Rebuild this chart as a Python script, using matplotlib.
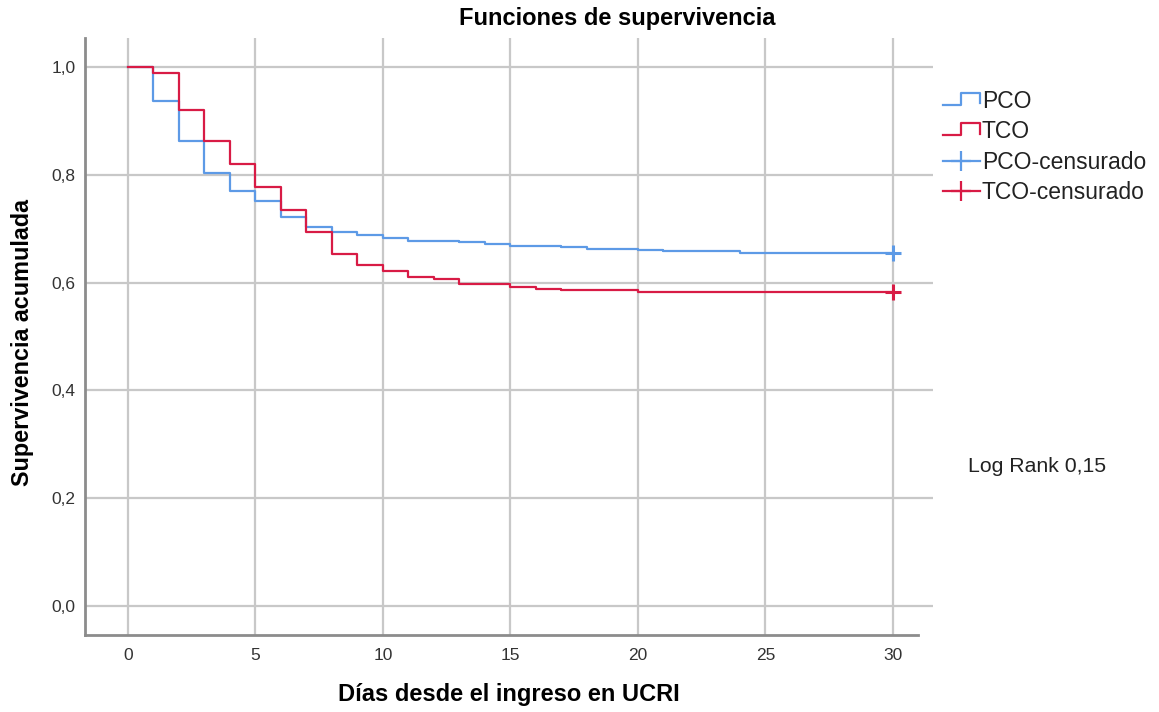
import matplotlib
matplotlib.use("Agg")
import matplotlib.pyplot as plt
from matplotlib.lines import Line2D
from matplotlib.legend_handler import HandlerBase

plt.rcParams['font.family'] = ['Liberation Sans', 'DejaVu Sans']

# Data
pco_t = [0, 1, 2, 3, 4, 5, 6, 7, 8, 9, 10, 11, 13, 14, 15, 17, 18, 20, 21, 24, 30]
pco_s = [1.0, 0.936, 0.862, 0.803, 0.770, 0.751, 0.722, 0.704, 0.693, 0.688, 0.683,
         0.677, 0.675, 0.671, 0.668, 0.666, 0.663, 0.660, 0.658, 0.655, 0.655]
tco_t = [0, 1, 2, 3, 4, 5, 6, 7, 8, 9, 10, 11, 12, 13, 15, 16, 17, 20, 30]
tco_s = [1.0, 0.989, 0.921, 0.862, 0.820, 0.778, 0.734, 0.693, 0.653, 0.632, 0.622,
         0.610, 0.606, 0.597, 0.591, 0.588, 0.586, 0.582, 0.582]
pco_cens_t = [30]
pco_cens_s = [0.655]
tco_cens_t = [30]
tco_cens_s = [0.582]
x_ticks = [0, 5, 10, 15, 20, 25, 30]
y_ticks = [0.0, 0.2, 0.4, 0.6, 0.8, 1.0]
y_ticklabels = ["0,0", "0,2", "0,4", "0,6", "0,8", "1,0"]

BLUE = '#5d9ae6'
RED = '#d81b45'

fig = plt.figure(figsize=(11.59, 7.12), dpi=100)
ax = fig.add_axes([85/1159, (712-635)/712, (933-85)/1159, (635-38)/712])

ax.step(pco_t, pco_s, where='post', color=BLUE, lw=1.6, zorder=3)
ax.step(tco_t, tco_s, where='post', color=RED, lw=1.6, zorder=3)
ax.plot(pco_cens_t, pco_cens_s, '+', color=BLUE, ms=12, mew=2.2, zorder=4)
ax.plot(tco_cens_t, tco_cens_s, '+', color=RED, ms=12, mew=2.2, zorder=4)

ax.set_xlim(-1.686, 31.57)
ax.set_ylim(-0.0538, 1.0538)
ax.set_xticks(x_ticks)
ax.set_yticks(y_ticks)
ax.set_yticklabels(y_ticklabels)
ax.grid(True, color='#c8c8c8', lw=1.6, zorder=0)
ax.set_axisbelow(True)
ax.tick_params(length=0, labelsize=12.5, colors='#333333')
ax.tick_params(axis='x', pad=9)
ax.tick_params(axis='y', pad=7)
for s in ['top', 'right']:
    ax.spines[s].set_visible(False)
for s in ['left', 'bottom']:
    ax.spines[s].set_color('#8c8c8c')
    ax.spines[s].set_linewidth(2)
ax.spines['bottom'].set_bounds(-1.686, 30.98)

fig.text(617/1159, 1 - 18/712, 'Funciones de supervivencia', fontsize=17, fontweight='bold',
         ha='center', va='center')
ax.set_xlabel('Días desde el ingreso en UCRI', fontsize=17, fontweight='bold', labelpad=15)
ax.set_ylabel('Supervivencia acumulada', fontsize=16.8, fontweight='bold', labelpad=12)
ax.yaxis.label.set_y((635 - 342) / (635 - 38))

fig.text(968/1159, 1 - 466/712, 'Log Rank 0,15', fontsize=15.3, va='center', ha='left', color='#222222')


class StepHandler(HandlerBase):
    def create_artists(self, legend, orig_handle, xdescent, ydescent, width, height, fontsize, trans):
        c = orig_handle.get_color()
        x0, x1 = -xdescent, -xdescent + width
        ym = -ydescent + height * 0.2
        yt = -ydescent + height * 0.95
        xs = [x0, x0 + width * 0.5, x0 + width * 0.5, x1, x1]
        ys = [ym, ym, yt, yt, ym + height * 0.1]
        ln = Line2D(xs, ys, color=c, lw=1.6, transform=trans)
        return [ln]


h1 = Line2D([], [], color=BLUE)
h2 = Line2D([], [], color=RED)
h3 = Line2D([], [], color=BLUE, marker='+', ms=15, mew=1.6, lw=1.6)
h4 = Line2D([], [], color=RED, marker='+', ms=15, mew=1.6, lw=1.6)
leg = fig.legend([h1, h2, h3, h4], ['PCO', 'TCO', 'PCO-censurado', 'TCO-censurado'],
                 handler_map={h1: StepHandler(), h2: StepHandler()},
                 loc='upper left', bbox_to_anchor=(943/1159, 1 - 90/712),
                 frameon=False, fontsize=16.5, handlelength=1.6, handletextpad=0.1,
                 labelspacing=0.32, borderaxespad=0, borderpad=0)
for t in leg.get_texts():
    t.set_color('#222222')

fig.savefig('out.png', dpi=100)
